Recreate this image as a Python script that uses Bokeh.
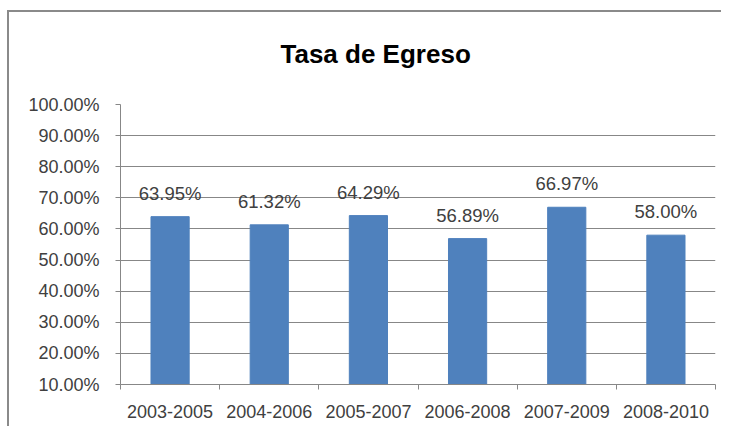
from bokeh.plotting import figure
from bokeh.layouts import column
from bokeh.models import (ColumnDataSource, FixedTicker, PrintfTickFormatter,
                          LabelSet, Range1d)
from bokeh.core.properties import value
from bokeh.embed import file_html
from bokeh.resources import INLINE

# ---- data ----
periods = ["2003-2005", "2004-2006", "2005-2007", "2006-2008", "2007-2009", "2008-2010"]
rates = [63.95, 61.32, 64.29, 56.89, 66.97, 58.00]
y_ticks = [10, 20, 30, 40, 50, 60, 70, 80, 90, 100]
y_min, y_max = 10, 100
title_text = "Tasa de Egreso"

FONT = "Liberation Sans"
GRAY = "#878787"
TXT = "#404040"
BORDER = "#8a8a8a"

n = len(periods)
centers = [i + 0.5 for i in range(n)]
labels = [f"{v:.2f}%" for v in rates]

src = ColumnDataSource(dict(x=centers, top=rates, label=labels))

p = figure(width=721, height=426, output_backend="svg", toolbar_location=None,
           x_range=Range1d(0, n), y_range=Range1d(y_min, y_max),
           min_border_left=120, min_border_right=6, min_border_top=104,
           min_border_bottom=42, title=title_text)
p.outline_line_color = None
p.background_fill_color = "white"
p.border_fill_color = None

p.title.text_font = FONT
p.title.text_font_size = "26px"
p.title.text_font_style = "bold"
p.title.text_color = "black"
p.title.align = "left"
p.title.offset = 160
p.title.standoff = 71

p.vbar(x="x", top="top", bottom=y_min, width=0.385, source=src,
       fill_color="#4F81BD", line_color="#4F81BD")

p.add_layout(LabelSet(x="x", y="top", text="label", source=src,
                      text_align="center", text_baseline="alphabetic",
                      y_offset=17, text_font=value(FONT), text_font_size=value("18.5px"),
                      text_color=TXT))

# y axis
p.yaxis.ticker = FixedTicker(ticks=y_ticks)
p.yaxis.formatter = PrintfTickFormatter(format="%.2f%%")
p.yaxis.axis_line_color = GRAY
p.yaxis.major_tick_line_color = GRAY
p.yaxis.major_tick_out = 5
p.yaxis.major_tick_in = 0
p.yaxis.minor_tick_line_color = None
p.yaxis.major_label_standoff = 16
p.yaxis.major_label_text_font = FONT
p.yaxis.major_label_text_font_size = "18px"
p.yaxis.major_label_text_color = TXT

# x axis
p.xaxis.ticker = FixedTicker(ticks=centers, minor_ticks=list(range(n + 1)))
p.xaxis.major_label_overrides = {c: s for c, s in zip(centers, periods)}
p.xaxis.axis_line_color = GRAY
p.xaxis.major_tick_line_color = None
p.xaxis.major_tick_out = 0
p.xaxis.major_tick_in = 0
p.xaxis.minor_tick_line_color = GRAY
p.xaxis.minor_tick_out = 5
p.xaxis.minor_tick_in = 0
p.xaxis.major_label_standoff = 15
p.xaxis.major_label_text_font = FONT
p.xaxis.major_label_text_font_size = "18px"
p.xaxis.major_label_text_color = TXT

p.xgrid.grid_line_color = None
p.ygrid.grid_line_color = GRAY
p.ygrid.grid_line_width = 1

# chart border (left and top edges of the chart area), painted behind the figure
layout = column(p, styles={
    "background": (f"linear-gradient({BORDER},{BORDER}) 7px 10px / 2px 1000px no-repeat, "
                   f"linear-gradient({BORDER},{BORDER}) 7px 10px / 1000px 2px no-repeat, white"),
})

open("out.html", "w").write(file_html(layout, INLINE))
